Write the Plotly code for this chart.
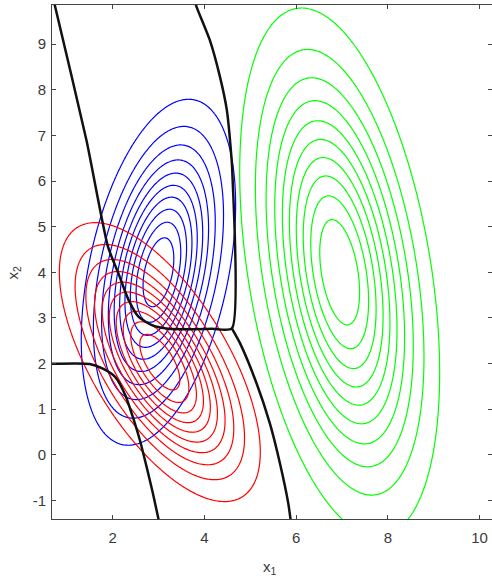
import numpy as np
import plotly.graph_objects as go

# ---- data: three Gaussian classes (blue, red, green) ----
class_names = ["blue", "red", "green"]
class_colors = ["#0000ff", "#ff0000", "#00ff00"]
mean_x = [3.0, 3.03, 6.95]
mean_y = [4.0, 2.03, 4.0]
var_x = [0.59, 1.0, 0.99]
var_y = [3.0, 1.95, 7.0]
cov_xy = [0.52, -0.9, -1.0]
n_levels = 10

# ---- decision boundaries (traced vertices) ----
bnd_a_x = [0.72, 0.74, 1.43, 1.90, 2.13, 2.35, 2.57, 2.86, 3.22, 4.16, 4.60, 4.61, 4.59, 4.49, 4.34, 4.12, 3.83, 3.79]
bnd_a_y = [9.95, 9.86, 6.90, 4.56, 3.97, 3.39, 3.02, 2.84, 2.76, 2.76, 2.77, 6.20, 6.53, 7.56, 8.29, 9.09, 9.82, 9.95]
bnd_b_x = [4.60, 4.78, 5.14, 5.43, 5.65, 5.83, 5.89]
bnd_b_y = [2.77, 2.44, 1.56, 0.68, -0.20, -1.07, -1.50]
bnd_c_x = [0.55, 1.50, 1.80, 2.06, 2.28, 2.45, 2.60, 2.75, 2.88, 3.02]
bnd_c_y = [1.99, 1.99, 1.88, 1.70, 1.30, 0.80, 0.30, -0.30, -0.85, -1.50]

x_ticks = [2, 4, 6, 8, 10]
y_ticks = [-1, 0, 1, 2, 3, 4, 5, 6, 7, 8, 9]
x_range = [0.68, 10.27]
y_range = [-1.41, 9.86]

fig = go.Figure()

gx = np.linspace(0, 11, 420)
gy = np.linspace(-4, 11, 560)
GX, GY = np.meshgrid(gx, gy)

for i in range(3):
    S = np.array([[var_x[i], cov_xy[i]], [cov_xy[i], var_y[i]]])
    Si = np.linalg.inv(S)
    dx = GX - mean_x[i]
    dy = GY - mean_y[i]
    q = Si[0, 0] * dx * dx + 2 * Si[0, 1] * dx * dy + Si[1, 1] * dy * dy
    z = np.exp(-0.5 * q)  # normalised to peak 1
    step = 1.0 / (n_levels + 1)
    c = class_colors[i]
    fig.add_trace(go.Contour(
        x=gx, y=gy, z=z,
        contours=dict(start=step, end=n_levels * step + 1e-9, size=step,
                      coloring="lines", showlabels=False),
        colorscale=[[0, c], [1, c]],
        showscale=False,
        line=dict(width=1.2, smoothing=1),
        hoverinfo="skip",
        name=class_names[i],
    ))

for bx, by in [(bnd_a_x, bnd_a_y), (bnd_b_x, bnd_b_y), (bnd_c_x, bnd_c_y)]:
    fig.add_trace(go.Scatter(x=bx, y=by, mode="lines",
                             line=dict(color="#111111", width=2.5, shape="spline", smoothing=0.6),
                             hoverinfo="skip", showlegend=False))

tick_font = dict(family="Liberation Sans, Arial", size=15, color="#3a3a3a")
axis_common = dict(showgrid=False, zeroline=False, showline=True, mirror="ticks",
                   linecolor="#444444", linewidth=1, ticks="inside", ticklen=4,
                   tickcolor="#444444", tickfont=tick_font)

fig.update_layout(
    width=492, height=579,
    margin=dict(l=52, r=0, t=5, b=60),
    paper_bgcolor="white", plot_bgcolor="white",
    showlegend=False,
    xaxis=dict(range=x_range, tickvals=x_ticks, ticktext=[str(v) for v in x_ticks],
               ticklabelstandoff=5, **axis_common),
    yaxis=dict(range=y_range, tickvals=y_ticks, ticktext=[str(v) for v in y_ticks],
               ticklabelstandoff=2, **axis_common),
    annotations=[
        dict(text="x<sub>1</sub>", xref="paper", yref="paper", x=0.495, y=-0.0953,
             xanchor="center", yanchor="middle", showarrow=False,
             font=dict(family="Liberation Sans, Arial", size=15, color="#3a3a3a")),
        dict(text="x<sub>2</sub>", xref="paper", yref="paper", x=-0.088, y=0.48,
             xanchor="center", yanchor="middle", showarrow=False, textangle=-90,
             font=dict(family="Liberation Sans, Arial", size=15, color="#3a3a3a")),
    ],
)

fig.write_html("out.html")
